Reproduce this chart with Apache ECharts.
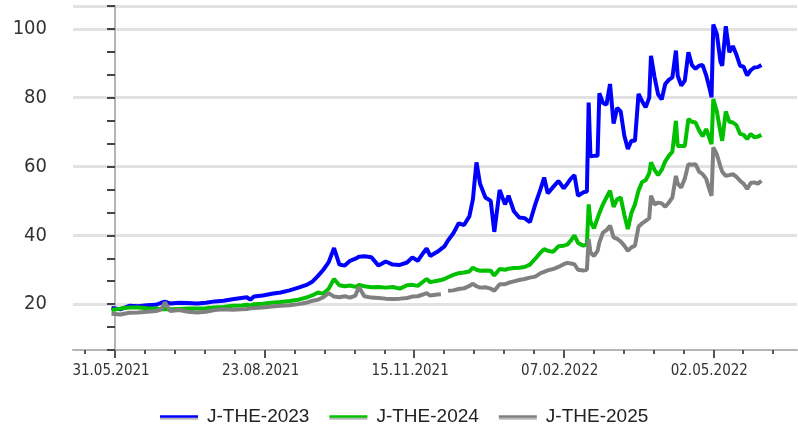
<!DOCTYPE html>
<html>
<head>
<meta charset="utf-8">
<script src="https://cdn.jsdelivr.net/npm/echarts@6/dist/echarts.min.js"></script>
<style>
html,body{margin:0;padding:0;background:#fff;}
#chart{width:798px;height:426px;}
</style>
</head>
<body>
<div id="chart"></div>
<script>
const seriesNames = ['J-THE-2023', 'J-THE-2024', 'J-THE-2025'];
const seriesColors = ['#0000ff', '#00c000', '#808080'];
const xLabelDates = ['2021-05-31', '2021-08-23', '2021-11-15', '2022-02-07', '2022-05-02'];
const yLabelValues = [20, 40, 60, 80, 100];

const dates = [
 '2021-05-29','2021-06-03','2021-06-08','2021-06-13','2021-06-18','2021-06-23','2021-06-26','2021-06-28','2021-07-01','2021-07-06',
 '2021-07-11','2021-07-16','2021-07-21','2021-07-26','2021-07-31','2021-08-05','2021-08-10','2021-08-13','2021-08-15','2021-08-17',
 '2021-08-22','2021-08-27','2021-09-01','2021-09-06','2021-09-11','2021-09-16','2021-09-19','2021-09-22','2021-09-25','2021-09-28',
 '2021-10-01','2021-10-04','2021-10-07','2021-10-10','2021-10-13','2021-10-15','2021-10-18','2021-10-22','2021-10-26','2021-10-30',
 '2021-11-03','2021-11-07','2021-11-11','2021-11-14','2021-11-17','2021-11-20','2021-11-22','2021-11-24','2021-11-28','2021-11-30',
 '2021-12-02','2021-12-04','2021-12-07','2021-12-10','2021-12-13','2021-12-16','2021-12-18','2021-12-19','2021-12-20','2021-12-22',
 '2021-12-25','2021-12-28','2021-12-30','2022-01-02','2022-01-05','2022-01-07','2022-01-10','2022-01-13','2022-01-16','2022-01-19',
 '2022-01-22','2022-01-25','2022-01-27','2022-01-29','2022-02-01','2022-02-04','2022-02-07','2022-02-09','2022-02-11','2022-02-13',
 '2022-02-15','2022-02-18','2022-02-20','2022-02-21','2022-02-22','2022-02-24','2022-02-26','2022-02-27','2022-03-01','2022-03-03',
 '2022-03-05','2022-03-07','2022-03-09','2022-03-11','2022-03-13','2022-03-15','2022-03-17','2022-03-19','2022-03-21','2022-03-23',
 '2022-03-25','2022-03-27','2022-03-28','2022-03-30','2022-04-01','2022-04-03','2022-04-05','2022-04-07','2022-04-09','2022-04-11',
 '2022-04-12','2022-04-14','2022-04-16','2022-04-18','2022-04-20','2022-04-22','2022-04-24','2022-04-26','2022-04-28','2022-04-30',
 '2022-05-01','2022-05-02','2022-05-04','2022-05-06','2022-05-07','2022-05-09','2022-05-11','2022-05-13','2022-05-15','2022-05-17',
 '2022-05-19','2022-05-21','2022-05-23','2022-05-25','2022-05-27','2022-05-29'
];

const jThe2023 = [
 18.9,18.5,19.5,19.4,19.7,19.8,20.4,20.7,20.2,20.4,
 20.3,20.2,20.4,20.8,21.0,21.4,21.8,22.0,21.3,22.2,
 22.5,23.0,23.4,24.0,24.8,25.7,26.6,28.2,30.0,32.2,
 36.3,31.5,31.2,32.6,33.2,33.8,33.9,33.6,31.2,32.4,
 31.5,31.4,32.1,33.6,32.6,34.8,36.2,34.0,35.2,36.0,
 36.8,38.5,40.6,43.5,43.0,45.5,50.5,56.0,61.2,55.0,
 51.0,50.0,41.0,53.2,49.0,51.5,47.0,45.2,45.0,43.8,
 49.0,53.5,56.8,52.2,54.0,55.8,53.7,55.0,56.5,57.5,
 51.5,52.5,52.7,78.6,63.0,63.1,63.1,81.3,78.5,78.0,
 84.0,72.5,77.0,76.0,69.0,65.1,67.5,67.5,81.1,79.0,
 77.2,80.0,92.2,86.0,81.0,79.5,84.0,85.2,85.9,93.7,
 86.4,83.5,85.0,93.2,89.5,88.4,89.3,89.5,86.5,82.5,
 80.1,101.3,98.5,90.5,89.3,100.8,93.2,95.0,92.5,89.3,
 89.0,86.5,88.0,88.8,88.9,89.5
];

const jThe2024 = [
 18.3,18.7,19.0,19.0,18.8,18.7,18.5,18.6,18.5,18.6,
 18.7,18.7,18.8,19.0,19.2,19.5,19.6,19.8,19.6,20.0,
 20.1,20.4,20.6,20.9,21.3,22.0,22.6,23.4,23.0,24.5,
 27.3,25.5,25.2,25.4,25.0,25.6,25.2,24.9,25.0,24.8,
 25.0,24.5,25.5,25.6,25.3,26.5,27.3,26.4,26.8,27.0,
 27.3,27.8,28.5,29.0,29.2,29.5,30.6,30.2,30.0,29.7,
 29.8,29.7,28.3,30.2,30.0,30.3,30.5,30.6,30.8,31.5,
 33.2,35.0,36.0,35.5,35.2,36.8,37.0,37.3,38.5,40.0,
 37.8,37.0,37.3,49.0,44.0,42.0,45.0,46.5,49.0,51.0,
 53.0,48.3,50.5,51.0,46.0,41.8,46.5,49.0,53.0,55.5,
 56.0,58.0,61.2,59.0,57.5,59.0,61.5,63.1,64.3,73.3,
 66.0,66.0,66.0,73.8,73.0,72.8,70.5,68.8,70.9,68.0,
 66.5,79.6,76.0,70.0,67.5,76.0,73.0,72.8,72.0,69.5,
 69.2,68.0,69.5,68.5,68.7,69.2
];

const jThe2025 = [
 17.2,17.0,17.5,17.6,17.8,18.0,18.5,20.5,18.0,18.3,
 17.8,17.6,17.8,18.3,18.5,18.4,18.5,18.6,18.8,18.9,
 19.0,19.3,19.5,19.7,20.0,20.5,21.0,21.3,22.0,23.2,
 22.2,22.0,22.3,21.9,22.5,25.0,22.3,21.9,21.8,21.6,
 21.5,21.6,21.8,22.2,22.3,22.8,23.2,22.5,22.8,22.9,
 null,23.9,24.0,24.4,24.6,25.3,25.9,25.5,25.2,24.8,
 24.9,24.5,23.9,25.8,25.8,26.2,26.6,27.0,27.3,27.7,
 28.0,29.0,29.4,29.8,30.2,30.8,31.6,32.0,31.8,31.6,
 30.0,29.8,30.0,38.9,35.0,34.0,35.5,37.9,40.8,41.5,
 42.8,39.4,39.0,38.2,37.0,35.5,36.5,37.0,42.5,43.5,
 44.2,45.0,51.5,49.0,49.5,49.3,48.3,49.5,51.0,57.3,
 55.0,53.9,56.5,60.7,60.5,60.7,58.5,57.8,56.4,53.0,
 51.5,65.6,63.5,60.0,58.5,57.3,57.5,57.8,57.0,55.9,
 55.0,53.5,55.2,55.4,55.0,55.9
];

const seriesValues = [jThe2023, jThe2024, jThe2025];

const BASE = Date.UTC(2021, 4, 31);
function dayOffset(s) {
  const p = s.split('-').map(Number);
  return Math.round((Date.UTC(p[0], p[1] - 1, p[2]) - BASE) / 86400000);
}
function fmtDay(v) {
  const d = new Date(BASE + Math.round(v) * 86400000);
  const dd = String(d.getUTCDate()).padStart(2, '0');
  const mm = String(d.getUTCMonth() + 1).padStart(2, '0');
  return dd + '.' + mm + '.' + d.getUTCFullYear();
}
const xDays = dates.map(dayOffset);
const xMajor = xLabelDates.map(dayOffset);
const minorStep = 84 / 5;
const xMinor = [];
for (let k = -1; k <= 22; k++) xMinor.push(+(k * minorStep).toFixed(4));

const yMin = 20 / 3, yMax = 320 / 3, yStep = 20 / 3;
const splitColors = [];
for (let k = 0; k <= 15; k++) {
  const v = yMin + k * yStep;
  const isMajor = yLabelValues.some(t => Math.abs(t - v) < 1e-6);
  splitColors.push(isMajor || k === 15 ? '#e2e2e2' : 'rgba(0,0,0,0)');
}

const font = "'DejaVu Sans Condensed', 'DejaVu Sans', sans-serif";

const chart = echarts.init(document.getElementById('chart'));
chart.setOption({
  animation: false,
  backgroundColor: '#fff',
  grid: { left: 73, right: 1, top: 6, bottom: 76 },
  legend: {
    data: seriesNames,
    left: 155,
    top: 402,
    icon: 'rect',
    itemWidth: 38,
    itemHeight: 2.5,
    itemGap: 20,
    itemStyle: { shadowColor: 'rgba(0,0,0,0.28)', shadowOffsetY: 2, shadowBlur: 0 },
    textStyle: { fontFamily: "'Liberation Sans', Arial, sans-serif", fontSize: 19, color: '#222', padding: [0, 0, 0, 4] }
  },
  xAxis: [
    {
      type: 'value', min: -23.6, max: 383, position: 'bottom',
      axisLine: { show: true, lineStyle: { color: '#b5b5b5', width: 2 } },
      axisTick: { show: true, customValues: xMinor, length: 4, lineStyle: { color: '#555', width: 2 } },
      axisLabel: { show: false },
      splitLine: { show: false }
    },
    {
      type: 'value', min: -23.6, max: 383, position: 'bottom', offset: 0,
      axisLine: { show: false },
      axisTick: { show: true, customValues: xMajor, length: 8, lineStyle: { color: '#555', width: 2 } },
      axisLabel: {
        show: true, customValues: xMajor, formatter: fmtDay,
        fontFamily: font, fontSize: 15, color: '#333', margin: 14, padding: [0, 8, 0, 0]
      },
      splitLine: { show: false }
    }
  ],
  yAxis: {
    type: 'value', min: yMin, max: yMax, interval: yStep,
    axisLine: { show: true, lineStyle: { color: '#b5b5b5', width: 2 } },
    axisTick: { show: true, length: 8, lineStyle: { color: '#444', width: 2 } },
    axisLabel: {
      fontFamily: font, fontSize: 20, color: '#333', margin: 26, padding: [0, 0, 10, 0],
      formatter: function (v) {
        const r = yLabelValues.find(t => Math.abs(t - v) < 1e-6);
        return r === undefined ? '' : String(r);
      }
    },
    splitLine: { show: true, lineStyle: { color: splitColors, width: 3 } }
  },
  series: seriesNames.map((name, i) => ({
    name: name,
    type: 'line',
    xAxisIndex: 0,
    showSymbol: false,
    symbol: 'none',
    connectNulls: false,
    color: seriesColors[i],
    lineStyle: { color: seriesColors[i], width: 4 },
    data: xDays.map((d, j) => [d, seriesValues[i][j]])
  }))
});
</script>
</body>
</html>
